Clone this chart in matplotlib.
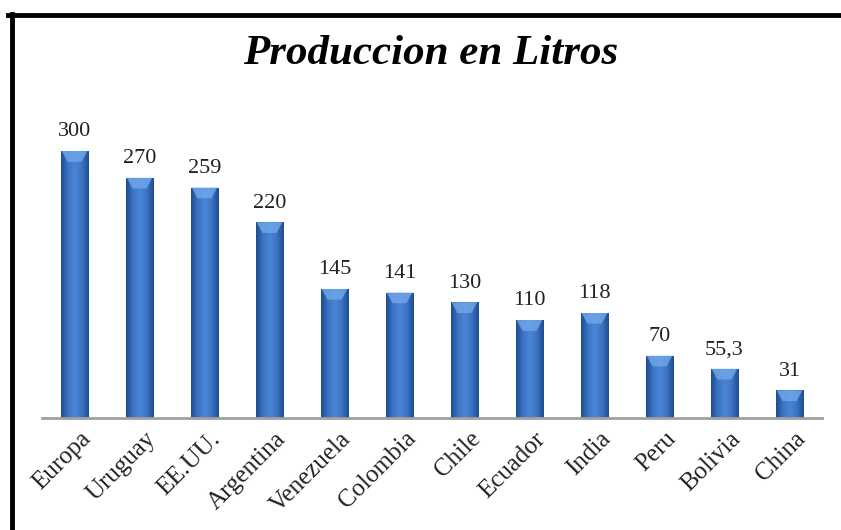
import numpy as np
import matplotlib
matplotlib.use("Agg")
import matplotlib.pyplot as plt
import matplotlib.transforms as mtransforms
from matplotlib.colors import LinearSegmentedColormap
from matplotlib.lines import Line2D
from matplotlib.patches import Polygon

paises = ["Europa", "Uruguay", "EE.UU.", "Argentina", "Venezuela", "Colombia",
          "Chile", "Ecuador", "India", "Peru", "Bolivia", "China"]
litros = [300, 270, 259, 220, 145, 141, 130, 110, 118, 70, 55.3, 31]
etiquetas = ["300", "270", "259", "220", "145", "141", "130", "110", "118", "70", "55,3", "31"]

plt.rcParams['font.family'] = ['Liberation Serif', 'DejaVu Serif']

fig = plt.figure(figsize=(8.41, 5.30), dpi=100)
ax = fig.add_axes([42 / 841, 112 / 530, 780 / 841, 0.554])

x = np.arange(len(paises))
ancho = 0.43
bars = ax.bar(x, litros, ancho, color="#3a6fbe", zorder=2)

# horizontal gradient inside each bar (darker edges, lighter centre)
cmap = LinearSegmentedColormap.from_list("barra", ["#1f4d8f", "#3b74c4", "#4b86d6", "#3b74c4", "#1f4d8f"])
grad = np.linspace(0, 1, 64).reshape(1, -1)
for b in bars:
    bx, by = b.get_x(), b.get_y()
    w, h = b.get_width(), b.get_height()
    im = ax.imshow(grad, cmap=cmap, aspect="auto", extent=(bx, bx + w, by, by + h),
                   zorder=3, interpolation="bicubic")
    im.set_clip_path(b)
    # lighter top bevel
    cap = 12
    top = Polygon([(bx + w * 0.04, by + h), (bx + w * 0.96, by + h), (bx + w * 0.75, by + h - cap),
                   (bx + w * 0.25, by + h - cap)], closed=True,
                  facecolor="#72a8ea", edgecolor="none", alpha=0.8, zorder=4)
    ax.add_patch(top)

for xi, v, t in zip(x, litros, etiquetas):
    ax.annotate(t, (xi, v), xytext=(0, 7), textcoords="offset points",
                ha="center", va="bottom", fontsize=16, color="#222222")

ax.set_xlim(-0.5, len(paises) - 0.5)
ax.set_ylim(0, 330)
ax.set_yticks([])
for s in ["top", "right", "left"]:
    ax.spines[s].set_visible(False)
ax.spines["bottom"].set_color("#a0a0a0")
ax.spines["bottom"].set_linewidth(2)
ax.spines["bottom"].set_zorder(5)

ax.set_xticks(x)
ax.set_xticklabels(paises, rotation=45, ha="right", rotation_mode="anchor", fontsize=18, color="#222222")
ax.tick_params(axis="x", length=0, pad=7)
offset = mtransforms.ScaledTranslation(5 / 100, 0, fig.dpi_scale_trans)
for lbl in ax.get_xticklabels():
    lbl.set_transform(lbl.get_transform() + offset)

fig.text(0.512, 0.898, "Produccion en Litros", ha="center", va="center",
         fontsize=31, fontweight="bold", fontstyle="italic", color="black")

# frame lines (top and left)
fig.add_artist(Line2D([8 / 841, 1.0], [515 / 530, 515 / 530], color="black", linewidth=3.5,
                      transform=fig.transFigure))
fig.add_artist(Line2D([12 / 841, 12 / 841], [0, 516 / 530], color="black", linewidth=3.5,
                      transform=fig.transFigure))

fig.savefig("out.png", dpi=100)
